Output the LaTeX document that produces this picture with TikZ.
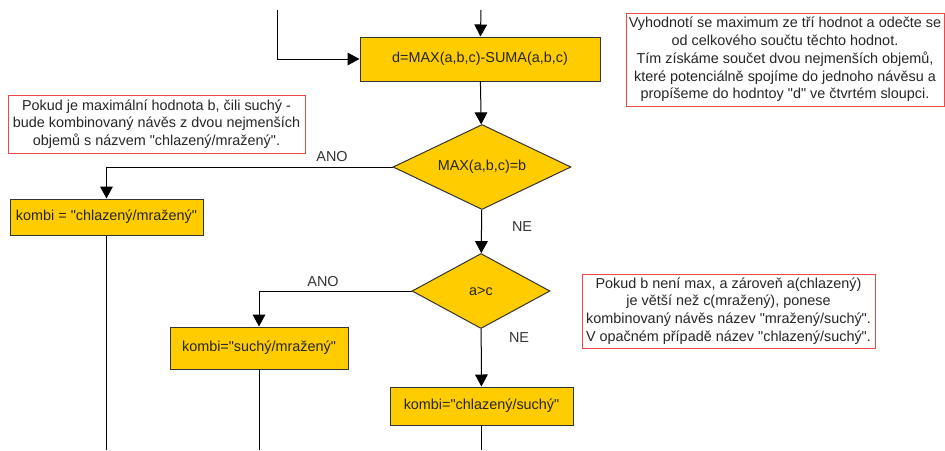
\documentclass[tikz,border=0pt]{standalone}
\usepackage{fontspec}
\setmainfont{Liberation Sans}[Ligatures=TeXOff]
\usetikzlibrary{arrows.meta,shapes.geometric}
\definecolor{boxfill}{HTML}{FFCC00}
\definecolor{noteline}{HTML}{F04848}
\definecolor{ink}{HTML}{333333}

\begin{document}
\begin{tikzpicture}[x=0.75pt,y=-0.75pt,>={Triangle[length=9pt,width=9.5pt]},line width=0.75pt,
  font=\fontsize{10.8}{13.3}\selectfont,
  stepbox/.style={draw=black!80,fill=boxfill,text=black!85,inner sep=0pt},
  testbox/.style={diamond,draw=black!80,fill=boxfill,text=black!85,inner sep=0pt,aspect=2},
  notebox/.style={draw=noteline,fill=white,text=black!85,align=center,inner sep=0pt},
  lbl/.style={text=ink,inner sep=0pt}]
\useasboundingbox (0,0) rectangle (945,450);
\node[notebox,minimum width=238.5pt,minimum height=69.75pt] (note1) at (785,59.5)
  {Vyhodnotí se maximum ze tří hodnot a odečte se\\od celkového součtu těchto hodnot.\\Tím získáme součet dvou nejmenších objemů,\\které potenciálně spojíme do jednoho návěsu a\\propíšeme do hodntoy "d" ve čtvrtém sloupci.};
\node[notebox,minimum width=222.75pt,minimum height=43.5pt] (note2) at (156.5,124)
  {Pokud je maximální hodnota b, čili suchý -\\bude kombinovaný návěs z dvou nejmenších\\objemů s názvem "chlazený/mražený".};
\node[notebox,minimum width=219.75pt,minimum height=55.5pt] (note3) at (728.5,311)
  {Pokud b není max, a zároveň a(chlazený)\\je větší než c(mražený), ponese\\kombinovaný návěs název "mražený/suchý".\\V opačném případě název "chlazený/suchý".};
\node[stepbox,minimum width=180pt,minimum height=33pt] (suma) at (480,59) {d=MAX(a,b,c)-SUMA(a,b,c)};
\node[testbox,minimum width=133.5pt,minimum height=63.75pt] (maxb) at (482,167) {MAX(a,b,c)=b};
\node[testbox,minimum width=103.5pt,minimum height=56.25pt] (avc) at (481,291) {a>c};
\node[stepbox,minimum width=144.75pt,minimum height=27pt] (chm) at (106.5,217) {kombi = "chlazený/mražený"};
\node[stepbox,minimum width=133.5pt,minimum height=31.5pt] (sm) at (259,348) {kombi="suchý/mražený"};
\node[stepbox,minimum width=137.25pt,minimum height=28.5pt] (chs) at (481.5,406) {kombi="chlazený/suchý"};
\coordinate (intop) at (481,10);
\coordinate (inleft) at (277,10);
\coordinate (outchm) at (106.5,450);
\coordinate (outsm) at (259,450);
\coordinate (outchs) at (481.5,450);
\draw[->] (intop) -- (suma);
\draw[->] (inleft) |- (suma);
\draw[->] (suma) -- (maxb);
\draw[->] (maxb.west) -| (chm);
\draw[->] (maxb) -- (avc);
\draw[->] (avc.west) -| (sm);
\draw[->] (avc) -- (chs);
\draw (chm) -- (outchm);
\draw (sm) -- (outsm);
\draw (chs) -- (outchs);
\node[lbl] (ano1) at (332,157) {ANO};
\node[lbl] (ne1) at (522,227) {NE};
\node[lbl] (ano2) at (323,282) {ANO};
\node[lbl] (ne2) at (519,338) {NE};
\end{tikzpicture}
\end{document}
